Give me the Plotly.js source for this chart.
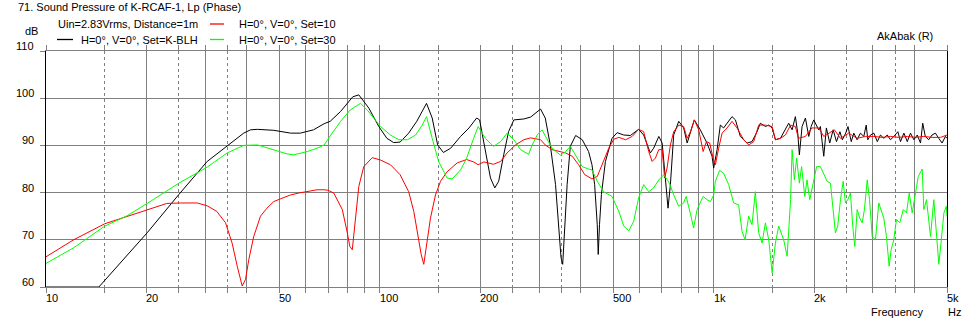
<!DOCTYPE html>
<html>
<head>
<meta charset="utf-8">
<script src="https://cdn.plot.ly/plotly-3.0.1.min.js"></script>
<style>
html,body{margin:0;padding:0;background:#fff;}
#chart{width:974px;height:324px;}
</style>
</head>
<body>
<div id="chart"></div>
<script>
// ---- Data (frequency in Hz, level in dB) ----
const blackFreq = [10,14.4,20.1,25,30.4,34.9,37.4,39.1,41,43,48.1,54,57.8,63.3,68.1,71,76.3,79.8,83,86.5,92.7,99.3,105,110,115,122,129,138,143.5,149,155,163,174.5,185,195,199,207,214.5,221,227,235,243,252,270,283,303,313,324,336,344,349,353,358,364,372,386,404,422,432,440,448,451,455,461,474,496,514,538,563,596,617,646,661,685,701,717,730,742,759,786,813,833,852,875,912,955,989,1000,1024,1047,1071,1097,1135,1162,1202,1259,1303,1349,1380,1429,1462,1497,1531,1585,1640,1678,1718,1757,1786,1806,1840,1883,1927,1959,1994,2064,2088,2114,2137,2176,2227,2280,2333,2389,2429,2486,2526,2583,2629,2689,2752,2817,2864,2896,2949,3020,3092,3160,3234,3311,3386,3466,3563,3628,3714,3802,3887,3979,4073,4165,4229,4305,4406,4509,4615,4724,4833,4947,5000];
const blackDb = [60,60,71.5,79.6,86.6,89.8,91.5,92.6,93.3,93.4,93.2,92.6,92.6,93.3,94.6,95.1,97.2,98.9,100.3,100.7,97.9,94,91.5,90.6,90.7,92.6,95.1,98.9,95.8,90.1,88.5,89.4,91.9,93.7,95.8,95.4,88.7,83.1,81,82.4,88,92.9,95.4,95.6,96,97.7,95.8,90.1,81.7,73.2,66.2,64.8,73.2,81.7,89.8,92.1,91.2,88.7,85.9,81.7,73.2,66.9,73.2,79.6,86.6,91.5,92.7,92.2,92.1,93.4,92.2,88.4,89.4,91.9,90.5,83.1,76.7,81.7,92.2,95.1,93.7,90.5,93,95.4,93.3,90.5,87.7,85.2,89.1,94.3,93.7,94.7,96.1,95.4,91.9,90.5,90.8,92.9,94.7,94,94.3,93.7,91.2,91.5,93.3,94.7,93.3,96.1,92.6,88,94,95.8,91.9,94,95.4,93.3,94,91.2,87.7,93.7,90.5,93.3,90.8,92.9,91.2,92.6,94,90.8,92.6,91.2,92.6,91.9,94.3,91.2,92.2,92.6,90.8,92.2,91.5,92.2,91.2,91.9,92.9,90.8,92.6,90.8,92.6,91.2,92.2,90.5,94.7,91.9,91.2,92.2,92.6,91.5,90.5,91.9,91.5];

const redFreq = [10,12.1,15,17.5,20.1,23,25.3,28.4,30.4,32.5,34.5,36.1,37.4,38.7,39.6,40.5,41.9,43.9,45.9,48.1,50.5,54,57.1,60.7,64.9,68.1,70,72.8,77.2,79.9,81.3,82.7,84.6,86.5,89.5,94.9,100.5,107.6,115,122,126.4,130,133,135.4,138,141.8,146.8,152,159,170.5,182,191,197,205,219,230,240.5,255,270,283,303,313,328,344,360,377,394,411,432,448,463,485,502,520,545,570,596,617,639,654,669,685,701,713,725,742,759,786,813,833,852,875,902,930,951,973,996,1012,1035,1060,1097,1135,1175,1230,1273,1318,1364,1429,1497,1531,1585,1640,1700,1757,1795,1883,1970,2064,2137,2300,2397,2539,2689,2850,3020,3197,3386,3586,3802,4024,4262,4509,4782,5000];
const redDb = [66.4,70,73.4,75,76.4,77.7,77.8,77.8,77.2,76,73.6,69.3,64.4,60.2,61.6,65.8,70.7,75,76.7,78.1,78.7,79.5,79.9,80.2,80.6,80.6,80.5,79.9,76.4,71.5,68.6,67.9,74.3,81.3,85.5,87.4,86.9,85.9,83.8,80.2,76,71.1,66.9,64.8,69,74.6,79.5,82.4,84.4,86.3,87,86.5,85.9,86.5,86,86.6,88.4,90.1,91.2,91.6,91.2,90.1,89.1,88.7,88.4,87.7,85.9,83.8,82.9,83.4,85.9,89.4,91.3,91.7,91.2,91.9,93.4,92.9,88.7,86.6,87.3,89.1,89.1,83.1,85.2,90.1,92.9,94.3,94,91.5,92.9,95.4,93.3,88.7,90.8,90.5,87.3,85.9,89.4,92.6,93.7,95.1,93.7,91.2,90.1,90.8,94.3,94.3,94,91.2,91.5,92.2,94.3,94,91.5,91.9,93.7,93.7,91.9,93.3,91.5,92.6,91.5,91.9,91.9,91.7,91.9,91.7,91.9,91.7,91.9,91.7,91.7,92.2];

const greenFreq = [10,12.1,15,17.5,20.1,25,30.4,34.9,39.1,40,43,45.9,48.1,52.7,55.2,60.7,64.9,68.1,72,76.3,81.5,87.5,91.7,100.5,107.6,114,121,128,134,138,143.5,150,159,164.7,174.5,182,191,197,207,219,230,240.5,252,264,279,286,296,306,316,328,348,360,372,386,404,418,432,448,468,496,520,538,557,576,596,617,639,661,685,709,737,759,786,813,827,852,871,892,930,955,978,1000,1012,1042,1071,1109,1148,1188,1216,1242,1273,1303,1333,1364,1396,1429,1462,1497,1531,1566,1621,1660,1700,1718,1745,1772,1806,1834,1875,1904,1940,1987,2034,2088,2137,2187,2238,2280,2316,2353,2398,2443,2482,2522,2569,2610,2646,2691,2739,2785,2829,2884,2930,2985,3053,3123,3175,3233,3293,3355,3401,3463,3529,3611,3697,3782,3853,3933,4024,4100,4214,4262,4341,4410,4463,4565,4650,4726,4808,4895,4977,5000];
const greenDb = [65,68.3,72.9,75.1,77.7,82,85.4,88.4,90,90,90.1,89.5,89.1,88.2,88,88.7,89.4,90.1,92.6,95.1,97.5,98.9,97.5,94,92.2,91.2,91.2,92.2,94.3,96.1,91.5,86.6,83.1,82.9,84.8,87.3,91.5,94,91.5,89.8,90.8,92.6,91.2,89.1,88.1,90.1,92.2,93.3,91.5,89.4,87.9,88.7,89.8,88,85.5,85.1,84.8,82.4,80.2,79.2,76,72.9,71.9,73.9,78.9,81.7,80.2,81,82.7,83.8,82,79.5,77.1,77.8,79.2,75.5,72.5,76.4,79.2,78.5,78.1,79.5,82.4,84.7,84.1,81.7,77.8,77.4,71.8,70,75,73.2,80.2,71.5,69.3,73.6,70,63,69.3,72.9,70,66.5,78.5,89.1,82.7,87.3,82,85.5,79.2,82.7,78.5,82,85.5,85.5,84.1,82.4,82,76.4,71.5,72.9,78.5,82.4,77.8,78.5,79.9,72.9,68.6,76.4,74.6,73.6,76.4,82.7,78.5,70.7,70,77.8,76.4,74.6,70.7,64.4,67.9,70,74.3,73.6,76.4,75.7,79.9,75.7,79.9,83.4,85,76.4,78.5,73.6,70.7,78.5,70.7,64.8,70,75.7,77.1,75];

const seriesNames = ["H=0°, V=0°, Set=K-BLH", "H=0°, V=0°, Set=10", "H=0°, V=0°, Set=30"];
const seriesColors = ["#000000", "#ff0000", "#00ff00"];

const xGridVals = [10,20,30,40,50,60,70,80,90,100,200,300,400,500,600,700,800,900,1000,2000,3000,4000,5000];
const xMinorVals = [15,25,35,150,250,350,1500,2500,3500];
const xLabelVals = [10,20,50,100,200,500,1000,2000,5000];
const xLabelText = ["10","20","50","100","200","500","1k","2k","5k"];
const yTickVals = [60,70,80,90,100,110];
const yTickText = ["60","70","80","90","100","110"];
const decadeLines = [100,1000];

const titleText = "71. Sound Pressure of K-RCAF-1, Lp (Phase)";
const subtitleText = "Uin=2.83Vrms, Distance=1m";

// ---- Build ----
const FONT = {family: "Liberation Sans, Arial, sans-serif", size: 11, color: "#000"};
const GRID = "#808080";

const traces = [
  {x: blackFreq, y: blackDb, name: seriesNames[0], line: {color: seriesColors[0], width: 1}},
  {x: redFreq, y: redDb, name: seriesNames[1], line: {color: seriesColors[1], width: 1}},
  {x: greenFreq, y: greenDb, name: seriesNames[2], line: {color: seriesColors[2], width: 1}}
].map(t => Object.assign({type: "scatter", mode: "lines", hoverinfo: "skip"}, t));

// plot-area geometry helpers (paper coordinates)
const L = 46, T = 51, W = 901, H = 236;
const px = v => (v - L) / W;
const py = v => (T + H - v) / H;

const shapes = [];
decadeLines.forEach(f => shapes.push({type: "line", xref: "x", yref: "paper", x0: Math.log10(f), x1: Math.log10(f), y0: 0, y1: 1, line: {color: "#000", width: 1.3}, layer: "between"}));
// legend swatches
const swatch = [[57, 73, 39.5, 0], [210, 224, 24, 1], [210, 224, 39.5, 2]];
swatch.forEach(s => shapes.push({type: "line", xref: "paper", yref: "paper", x0: px(s[0]), x1: px(s[1]), y0: py(s[2]), y1: py(s[2]), line: {color: seriesColors[s[3]], width: 1.3}}));

const ann = [];
const txt = (text, x, y, xanchor) => ann.push({text: text, xref: "paper", yref: "paper", x: px(x), y: py(y), xanchor: xanchor || "left", yanchor: "middle", showarrow: false, font: FONT, borderpad: 0});
txt(titleText, 17, 7);
txt(subtitleText, 57, 24);
txt(seriesNames[1], 238, 24);
txt(seriesNames[0], 80, 40);
txt(seriesNames[2], 238, 40);
txt("dB", 24, 31);
txt("AkAbak (R)", 876, 36);
txt("Frequency", 870, 312);
txt("Hz", 947, 312);
xLabelVals.forEach((v, i) => ann.push({text: xLabelText[i], xref: "x", yref: "paper", x: Math.log10(v), y: py(298), xanchor: "left", yanchor: "middle", xshift: -1, showarrow: false, font: FONT, borderpad: 0}));
yTickVals.forEach((v, i) => ann.push({text: yTickText[i], xref: "paper", yref: "y", x: px(35), y: v, yshift: 5, xanchor: "right", yanchor: "middle", showarrow: false, font: FONT, borderpad: 0}));

const layout = {
  width: 974, height: 324, autosize: false,
  margin: {l: L, r: 974 - L - W, t: T, b: 324 - T - H, pad: 0},
  paper_bgcolor: "#fff", plot_bgcolor: "#fff",
  font: FONT, showlegend: false,
  xaxis: {
    type: "log", range: [1, Math.log10(5000)],
    tickmode: "array", tickvals: xGridVals, showticklabels: false,
    showgrid: true, gridcolor: GRID, gridwidth: 1,
    ticks: "outside", ticklen: 5, tickcolor: GRID, tickwidth: 1,
    showline: true, linecolor: GRID, linewidth: 1, mirror: "ticks",
    zeroline: false, fixedrange: true,
    minor: {tickmode: "array", tickvals: xMinorVals, showgrid: true, gridcolor: GRID, griddash: "3px,3px", gridwidth: 1, ticks: "outside", ticklen: 5, tickcolor: GRID}
  },
  yaxis: {
    range: [60, 110], tickmode: "array", tickvals: yTickVals, showticklabels: false,
    showgrid: true, gridcolor: GRID, gridwidth: 1,
    ticks: "outside", ticklen: 5, tickcolor: GRID,
    showline: true, linecolor: "#000", linewidth: 1, mirror: true,
    zeroline: false, fixedrange: true
  },
  shapes: shapes,
  annotations: ann
};

Plotly.newPlot("chart", traces, layout, {staticPlot: true, displayModeBar: false});
</script>
</body>
</html>
